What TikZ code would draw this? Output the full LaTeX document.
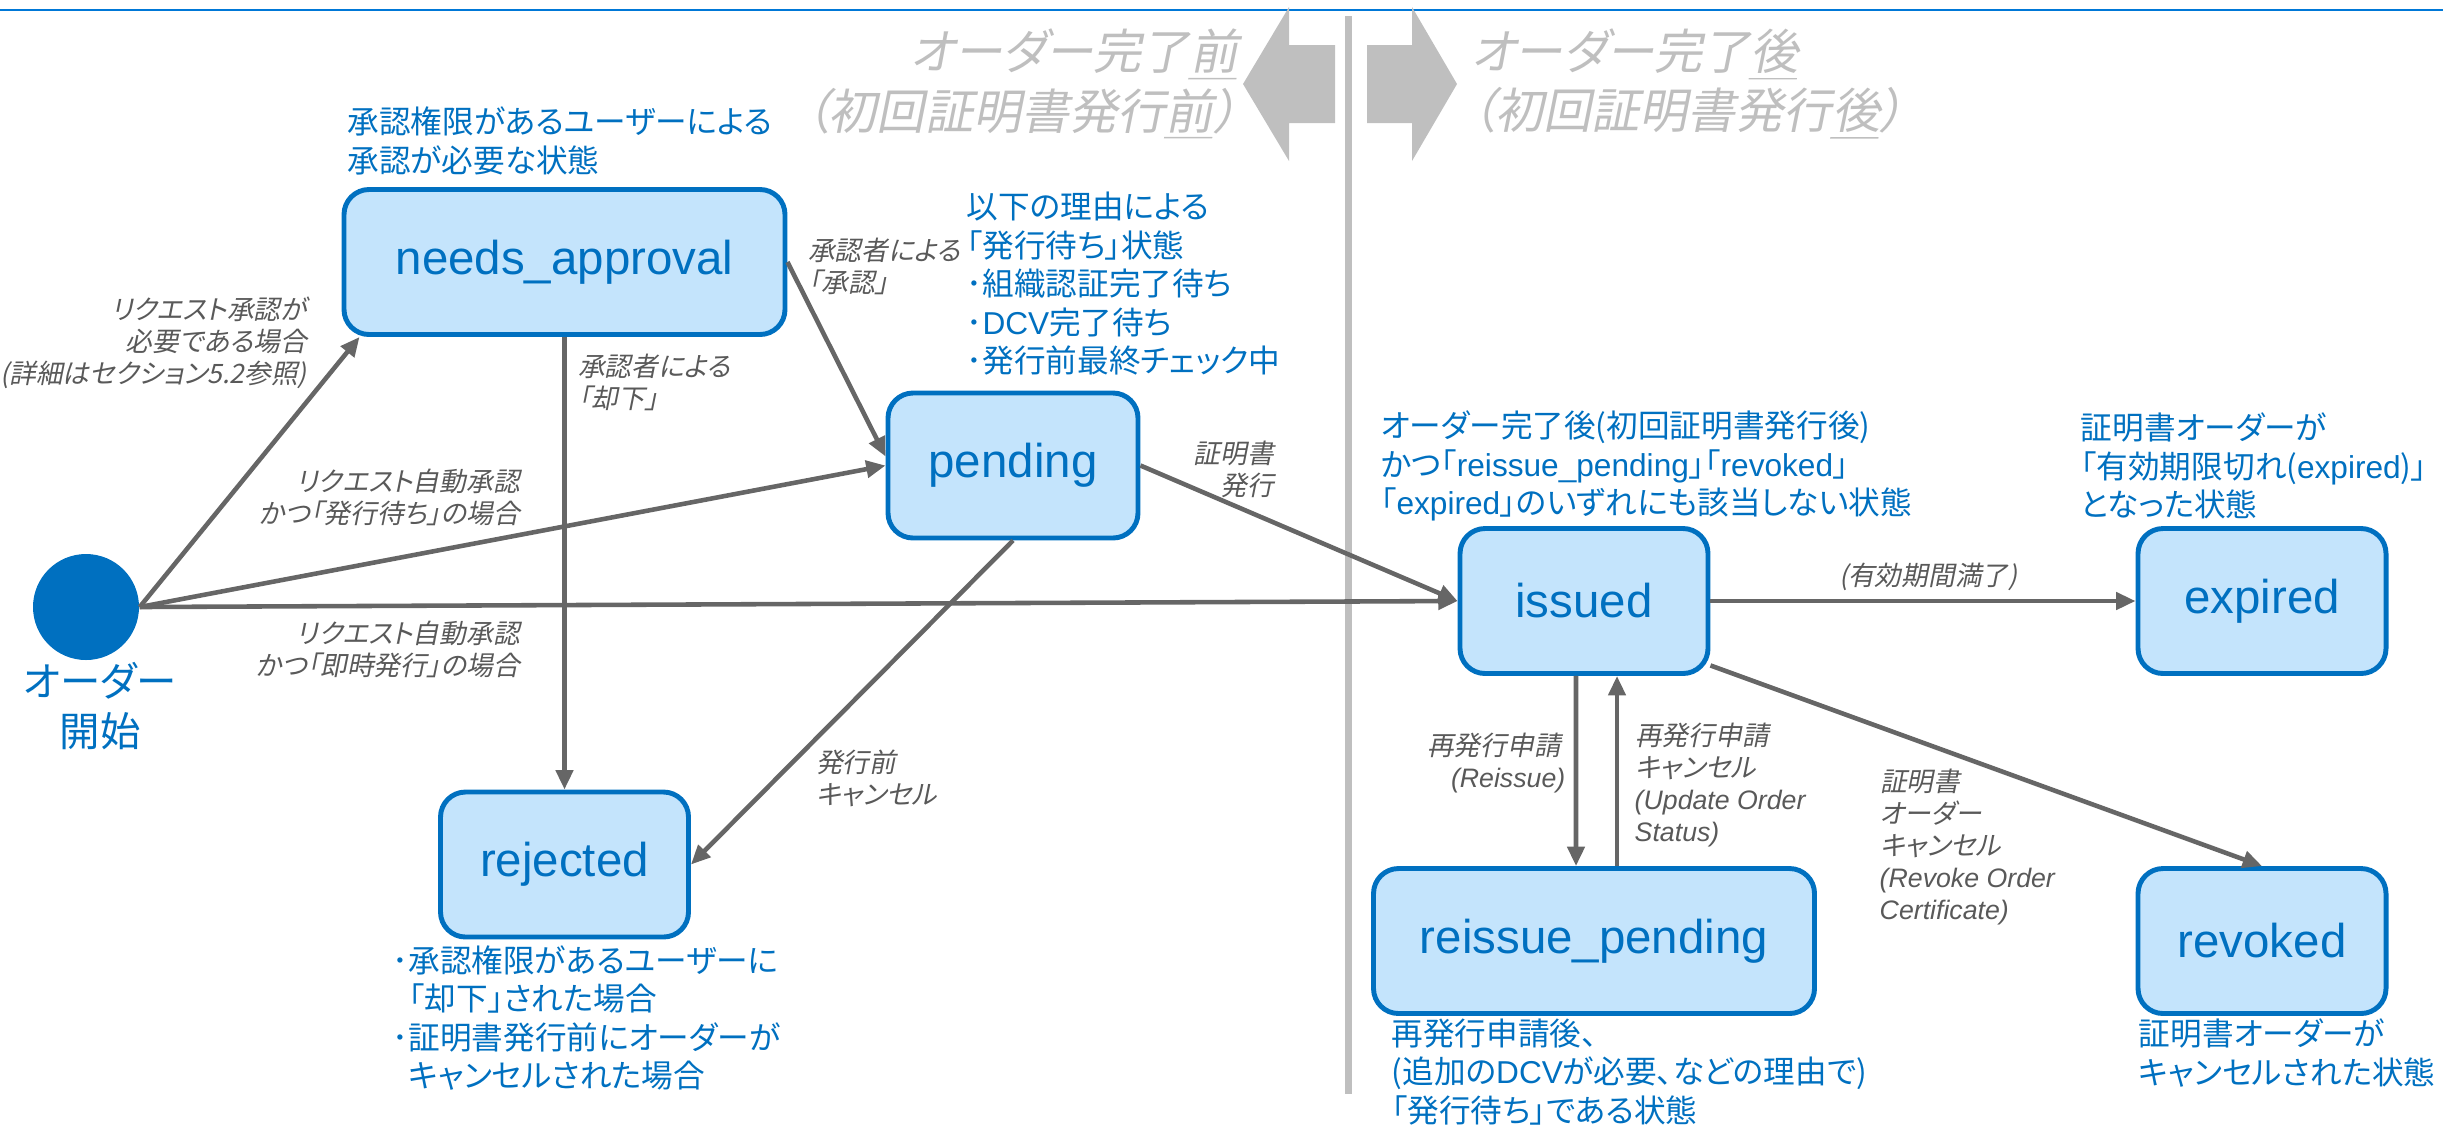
\documentclass[tikz,border=0pt]{standalone}
\usepackage{fontspec}
\setmainfont{Liberation Sans}
\newfontfamily\jp[RawFeature=+palt]{Noto Sans CJK JP}
\usetikzlibrary{arrows.meta}
\definecolor{ablue}{RGB}{0,112,192}
\definecolor{lblue}{RGB}{196,228,252}
\definecolor{agray}{RGB}{102,102,102}
\definecolor{lgray}{RGB}{89,89,89}
\definecolor{tgray}{RGB}{191,191,191}
\definecolor{topblue}{RGB}{0,120,215}
% one slanted line of Japanese text
\newcommand{\itx}[1]{\tikz[baseline=0pt]\node[xslant=0.2,inner sep=0pt,anchor=base]{#1};}
\begin{document}
\begin{tikzpicture}[x=1cm,y=-1cm,
    state/.style={draw=ablue,fill=lblue,line width=1.4pt,rounded corners=0.25cm,text=ablue,
      font=\fontsize{13.5}{16}\selectfont,minimum width=2.48cm,minimum height=1.45cm,inner sep=0pt},
    trans/.style={draw=agray,line width=1.3pt,-{Triangle[length=5.5pt,width=4.8pt]}},
    note/.style={text=ablue,font=\jp\fontsize{9}{10.95}\selectfont,align=left,inner sep=0pt},
    cond/.style={text=lgray,font=\jp\fontsize{7.6}{9.1}\selectfont,inner sep=0pt},
    phase/.style={text=tgray,font=\jp\fontsize{13.7}{16.8}\selectfont,inner sep=0pt}]
\useasboundingbox (0,0) rectangle (24.43,11.25);
% header line, phase divider and phase arrows
\draw[topblue,line width=0.6pt] (0,0.10) -- (24.43,0.10);
\draw[tgray,line width=2pt] (13.48,0.16) -- (13.48,10.94);
\fill[tgray] (12.43,0.84) -- (12.89,0.07) -- (12.89,0.45) -- (13.35,0.45) -- (13.35,1.23) -- (12.89,1.23) -- (12.89,1.61) -- cycle;
\fill[tgray] (14.57,0.84) -- (14.12,0.07) -- (14.12,0.45) -- (13.67,0.45) -- (13.67,1.23) -- (14.12,1.23) -- (14.12,1.61) -- cycle;
\node[phase,anchor=east,align=right] (before) at (12.47,0.845) {\itx{オーダー完了\underline{前}}\\\itx{（初回証明書発行\underline{前}）}};
\node[phase,anchor=west,align=left] (after) at (14.68,0.845) {\itx{オーダー完了\underline{後}}\\\itx{（初回証明書発行\underline{後}）}};

% states
\node[circle,fill=ablue,minimum size=1.06cm,inner sep=0pt] (start) at (0.86,6.07) {};
\node[text=ablue,font=\jp\fontsize{11.5}{14}\selectfont,align=center,inner sep=0pt,anchor=north] (startlbl) at (1.0,6.62) {オーダー\\開始};
\node[state,minimum width=4.41cm] (approval) at (5.645,2.62) {needs\_approval};
\node[state,minimum width=2.50cm] (pending) at (10.13,4.655) {pending};
\node[state] (rejected) at (5.645,8.645) {rejected};
\node[state] (issued) at (15.84,6.01) {issued};
\node[state] (expired) at (22.62,6.01) {expired};
\node[state,minimum width=4.41cm] (reissue) at (15.94,9.41) {reissue\_pending};
\node[state] (revoked) at (22.62,9.41) {revoked};

% state notes
\node[note,anchor=west] (approvalnote) at (3.47,1.41) {承認権限があるユーザーによる\\承認が必要な状態};
\node[note,anchor=west] (pendingnote) at (9.66,2.84) {以下の理由による\\「発行待ち」状態\\･組織認証完了待ち\\･{\normalfont DCV}完了待ち\\･発行前最終チェック中};
\node[note,anchor=west] (rejectednote) at (3.92,10.18) {･承認権限があるユーザーに\\\phantom{･}「却下」された場合\\･証明書発行前にオーダーが\\\phantom{･}キャンセルされた場合};
\node[note,anchor=west] (issuednote) at (13.80,4.66) {オーダー完了後(初回証明書発行後)\\かつ「{\normalfont reissue\_pending}」「{\normalfont revoked}」\\「{\normalfont expired}」のいずれにも該当しない状態};
\node[note,anchor=west] (expirednote) at (20.80,4.66) {証明書オーダーが\\「有効期限切れ({\normalfont expired})」\\となった状態};
\node[note,anchor=west] (reissuenote) at (13.91,10.72) {再発行申請後、\\(追加の{\normalfont DCV}が必要、などの理由で)\\「発行待ち」である状態};
\node[note,anchor=west] (revokednote) at (21.38,10.53) {証明書オーダーが\\キャンセルされた状態};

% transition labels
\node[cond,anchor=east,align=right] (needsapp) at (3.12,3.43) {\itx{リクエスト承認が}\\\itx{必要である場合}\\\itx{(詳細はセクション5.2参照)}};
\node[cond,anchor=east,align=right] (autopend) at (5.25,4.97) {\itx{リクエスト自動承認}\\\itx{かつ「発行待ち」の場合}};
\node[cond,anchor=east,align=right] (autoissue) at (5.25,6.49) {\itx{リクエスト自動承認}\\\itx{かつ「即時発行」の場合}};
\node[cond,anchor=west,align=left] (reject) at (5.77,3.82) {\itx{承認者による}\\\itx{「却下」}};
\node[cond,anchor=west,align=left] (approve) at (8.07,2.66) {\itx{承認者による}\\\itx{「承認」}};
\node[cond,anchor=west,align=left] (cancel) at (8.15,7.78) {\itx{発行前}\\\itx{キャンセル}};
\node[cond,anchor=east,align=right] (issue) at (12.79,4.69) {\itx{証明書}\\\itx{発行}};
\node[cond] (expire) at (19.30,5.77) {\itx{(有効期間満了)}};
\node[cond,anchor=east,align=right] (reissuereq) at (15.66,7.63) {\itx{再発行申請}\\{\normalfont\itshape (Reissue)}};
\node[cond,anchor=west,align=left] (reissuecancel) at (16.34,7.85) {\itx{再発行申請}\\\itx{キャンセル}\\{\normalfont\itshape (Update Order}\\{\normalfont\itshape Status)}};
\node[cond,anchor=west,align=left] (revoke) at (18.79,8.47) {\itx{証明書}\\\itx{オーダー}\\\itx{キャンセル}\\{\normalfont\itshape (Revoke Order}\\{\normalfont\itshape Certificate)}};

% transitions
\draw[trans] (start.east) -- ([xshift=0.18cm]approval.south west);
\draw[trans] (start.east) -- (pending.west);
\draw[trans] (start.east) -- (issued.west);
\draw[trans] (approval.east) -- ([yshift=0.09cm]pending.west);
\draw[trans] (approval.south) -- (rejected.north);
\draw[trans] (pending.south) -- (rejected.east);
\draw[trans] (pending.east) -- (issued.west);
\draw[trans] (issued.east) -- (expired.west);
\draw[trans] ([xshift=-0.08cm]issued.south) -- ([xshift=-0.18cm]reissue.north);
\draw[trans] ([xshift=0.23cm]reissue.north) -- ([xshift=0.33cm]issued.south);
\draw[trans] (issued.-27) -- (revoked.north);
\end{tikzpicture}
\end{document}
